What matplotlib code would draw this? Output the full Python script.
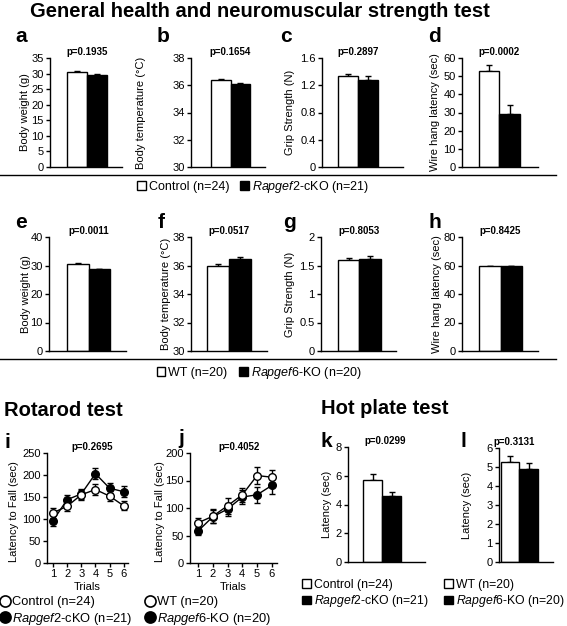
import matplotlib
matplotlib.use('Agg')
import matplotlib.pyplot as plt
from matplotlib.lines import Line2D
from matplotlib.patches import Patch
from matplotlib.transforms import blended_transform_factory
import numpy as np

plt.rcParams['font.family'] = ['Liberation Sans', 'DejaVu Sans']
plt.rcParams['mathtext.fontset'] = 'custom'
plt.rcParams['mathtext.it'] = 'Liberation Sans:italic'
plt.rcParams['mathtext.rm'] = 'Liberation Sans'
plt.rcParams['axes.linewidth'] = 1.0

# ---------------- data ----------------
legend_top = ['Control (n=24)', r'$\mathit{Rapgef2}$-cKO (n=21)']
legend_mid = ['WT (n=20)', r'$\mathit{Rapgef6}$-KO (n=20)']

a_mean = [30.4, 29.4];   a_err = [0.4, 0.45]
b_mean = [36.35, 36.1];  b_err = [0.1, 0.1]
c_mean = [1.34, 1.28];   c_err = [0.03, 0.05]
d_mean = [52.7, 29.3];   d_err = [3.3, 4.7]
e_mean = [30.6, 28.6];   e_err = [0.3, 0.3]
f_mean = [35.95, 36.45]; f_err = [0.17, 0.12]
g_mean = [1.60, 1.61];   g_err = [0.04, 0.05]
h_mean = [59.8, 59.7];   h_err = [0.2, 0.2]
k_mean = [5.69, 4.60];   k_err = [0.4, 0.28]
l_mean = [5.28, 4.89];   l_err = [0.32, 0.3]

trials = [1, 2, 3, 4, 5, 6]
i_ctrl = [114, 129, 155, 167, 152, 130]; i_ctrl_err = [11, 10, 11, 13, 11, 10]
i_ko   = [96, 144, 157, 203, 170, 162];  i_ko_err   = [13, 11, 12, 12, 12, 12]
j_wt   = [73, 85, 104, 124, 159, 156];   j_wt_err   = [9, 13, 14, 13, 15, 14]
j_ko   = [58, 84, 98, 120, 124, 141];    j_ko_err   = [7, 12, 12, 12, 14, 15]

p_vals = {'a': 'p=0.1935', 'b': 'p=0.1654', 'c': 'p=0.2897', 'd': 'p=0.0002',
          'e': 'p=0.0011', 'f': 'p=0.0517', 'g': 'p=0.8053', 'h': 'p=0.8425',
          'i': 'p=0.2695', 'j': 'p=0.4052', 'k': 'p=0.0299', 'l': 'p=0.3131'}

W, H = 567, 626
fig = plt.figure(figsize=(W / 100, H / 100), dpi=100)


def px_axes(left, top, right, bottom):
    return fig.add_axes([left / W, 1 - bottom / H, (right - left) / W, (bottom - top) / H])


def style(ax):
    for s in ['top', 'right']:
        ax.spines[s].set_visible(False)
    ax.tick_params(axis='y', direction='out', length=3, width=1, labelsize=8, pad=1.5)
    ax.tick_params(axis='x', direction='out', length=3, width=1, labelsize=8, pad=1.5)


def bar_panel(rect, xlim, mean, err, ylim, yticks, yticklabels, ylabel, ylab_x, pkey, p_x=0.5):
    ax = px_axes(*rect)
    style(ax)
    ax.bar([0, 1], mean, width=1.0, color=['white', 'black'], edgecolor='black',
           linewidth=1.0, zorder=2)
    ax.errorbar([0, 1], mean, yerr=[[0, 0], err], fmt='none', ecolor='black',
                elinewidth=1.0, capsize=2.5, capthick=1.0, zorder=1)
    ax.set_xlim(*xlim)
    ax.set_ylim(*ylim)
    ax.set_xticks([])
    ax.set_yticks(yticks)
    ax.set_yticklabels(yticklabels)
    ax.set_ylabel(ylabel, fontsize=8, va='center')
    left, right = rect[0], rect[2]
    ax.yaxis.set_label_coords((ylab_x - left) / (right - left), 0.5)
    tr = blended_transform_factory(ax.transData, ax.transAxes)
    ax.text(p_x, 1.0 + 6 / (rect[3] - rect[1]), p_vals[pkey], transform=tr, ha='center',
            va='center', fontsize=7, fontweight='bold')
    return ax


# ---- Row 1 (a-d) ----
bar_panel((50, 58, 122, 167), (-1.35, 2.25), a_mean, a_err, (0, 35), range(0, 36, 5),
          [str(v) for v in range(0, 36, 5)], 'Body weight (g)', 25, 'a')
bar_panel((191, 58, 265, 167), (-1.53, 2.27), b_mean, b_err, (30, 38), range(30, 39, 2),
          [str(v) for v in range(30, 39, 2)], 'Body temperature (°C)', 141, 'b')
bar_panel((322, 58, 403, 167), (-1.3, 2.75), c_mean, c_err, (0, 1.6), [0, 0.4, 0.8, 1.2, 1.6],
          ['0', '0.4', '0.8', '1.2', '1.6'], 'Grip Strength (N)', 290, 'c')
bar_panel((462, 58, 538, 167), (-1.33, 2.38), d_mean, d_err, (0, 60), range(0, 61, 10),
          [str(v) for v in range(0, 61, 10)], 'Wire hang latency (sec)', 435, 'd')

# ---- Row 2 (e-h) ----
bar_panel((49, 237, 126, 351), (-1.34, 2.24), e_mean, e_err, (0, 40), range(0, 41, 10),
          [str(v) for v in range(0, 41, 10)], 'Body weight (g)', 26, 'e')
bar_panel((191, 237, 267, 351), (-1.24, 2.24), f_mean, f_err, (30, 38), range(30, 39, 2),
          [str(v) for v in range(30, 39, 2)], 'Body temperature (°C)', 166, 'f')
bar_panel((321, 237, 396, 351), (-1.29, 2.2), g_mean, g_err, (0, 2), [0, 0.5, 1, 1.5, 2],
          ['0', '0.5', '1', '1.5', '2'], 'Grip Strength (N)', 290, 'g')
bar_panel((462, 237, 538, 351), (-1.29, 2.24), h_mean, h_err, (0, 80), range(0, 81, 20),
          [str(v) for v in range(0, 81, 20)], 'Wire hang latency (sec)', 437, 'h')

# ---- Hot plate (k, l) ----
bar_panel((348, 447, 425, 562), (-1.3, 2.76), k_mean, k_err, (0, 8), range(0, 9, 2),
          [str(v) for v in range(0, 9, 2)], 'Latency (sec)', 327, 'k', p_x=0.65)
bar_panel((499, 448, 553, 562), (-0.6, 2.3), l_mean, l_err, (0, 6), range(0, 7, 1),
          [str(v) for v in range(0, 7, 1)], 'Latency (sec)', 467, 'l', p_x=0.2)


# ---- Rotarod (i, j) ----
def line_panel(rect, xlim, ylim, yticks, s1, e1, s2, e2, ylab_x, pkey):
    ax = px_axes(*rect)
    style(ax)
    ax.errorbar(trials, s1, yerr=e1, fmt='-o', color='black', mfc='white', mec='black',
                ms=5.5, lw=1.0, elinewidth=1.0, capsize=2.5, capthick=1.0, zorder=3)
    ax.errorbar(trials, s2, yerr=e2, fmt='-o', color='black', mfc='black', mec='black',
                ms=5.5, lw=1.0, elinewidth=1.0, capsize=2.5, capthick=1.0, zorder=2)
    ax.set_xlim(*xlim)
    ax.set_ylim(*ylim)
    ax.set_xticks(trials)
    ax.set_yticks(yticks)
    ax.set_xlabel('Trials', fontsize=8, labelpad=2)
    ax.set_ylabel('Latency to Fall (sec)', fontsize=8, va='center')
    left, right = rect[0], rect[2]
    ax.yaxis.set_label_coords((ylab_x - left) / (right - left), 0.47)
    tr = blended_transform_factory(ax.transData, ax.transAxes)
    ax.text(3.8, 1.0 + 6 / (rect[3] - rect[1]), p_vals[pkey], transform=tr, ha='center',
            va='center', fontsize=7, fontweight='bold')
    return ax


line_panel((47, 453, 128, 563), (0.58, 6.3), (0, 250), range(0, 251, 50),
           i_ctrl, i_ctrl_err, i_ko, i_ko_err, 14, 'i')
line_panel((190, 453, 277, 563), (0.46, 6.35), (0, 200), range(0, 201, 50),
           j_wt, j_wt_err, j_ko, j_ko_err, 160, 'j')

# ---------------- titles & letters ----------------
fig.text(260 / W, 1 - 2 / H, 'General health and neuromuscular strength test', ha='center',
         va='top', fontsize=14.5, fontweight='bold')
fig.text(4 / W, 1 - 411 / H, 'Rotarod test', ha='left', va='center', fontsize=14.5,
         fontweight='bold')
fig.text(321 / W, 1 - 409 / H, 'Hot plate test', ha='left', va='center', fontsize=14.5,
         fontweight='bold')

letters = {'a': (15, 42), 'b': (157, 42), 'c': (280, 42), 'd': (428, 42),
           'e': (15, 228), 'f': (158, 228), 'g': (283, 228), 'h': (428, 228),
           'i': (5, 448), 'j': (178, 444), 'k': (320, 447), 'l': (460, 447)}
for k, (x, y) in letters.items():
    fig.text(x / W, 1 - y / H, k, ha='left', va='baseline', fontsize=15, fontweight='bold')

# separator lines
for yy in (175, 359):
    fig.add_artist(Line2D([0, 556 / W], [1 - yy / H, 1 - yy / H], color='black', lw=1.0,
                          transform=fig.transFigure))

# ---------------- legends ----------------
sq = [Patch(facecolor='white', edgecolor='black', lw=1.0),
      Patch(facecolor='black', edgecolor='black', lw=1.0)]
circ = [Line2D([], [], marker='o', ls='none', mfc='white', mec='black', ms=8, mew=1.2),
        Line2D([], [], marker='o', ls='none', mfc='black', mec='black', ms=8, mew=1.2)]

common = dict(frameon=False, borderpad=0, borderaxespad=0, handletextpad=0.25,
              handlelength=0.7, handleheight=0.7, labelspacing=0.2, columnspacing=0.9)

fig.legend(sq, legend_top, loc='center', bbox_to_anchor=(253 / W, 1 - 187 / H), ncol=2,
           fontsize=9, **common)
fig.legend(sq, legend_mid, loc='center', bbox_to_anchor=(259 / W, 1 - 373 / H), ncol=2,
           fontsize=9, **common)
fig.legend(circ, legend_top, loc='upper left', bbox_to_anchor=(0 / W, 1 - 596 / H), ncol=1,
           fontsize=9.3, **common)
fig.legend(circ, legend_mid, loc='upper left', bbox_to_anchor=(145 / W, 1 - 596 / H), ncol=1,
           fontsize=9.3, **common)
fig.legend(sq, legend_top, loc='upper left', bbox_to_anchor=(302 / W, 1 - 579 / H), ncol=1,
           fontsize=8.8, **common)
fig.legend(sq, legend_mid, loc='upper left', bbox_to_anchor=(444 / W, 1 - 579 / H), ncol=1,
           fontsize=8.8, **common)

fig.savefig('out.png', dpi=100)
